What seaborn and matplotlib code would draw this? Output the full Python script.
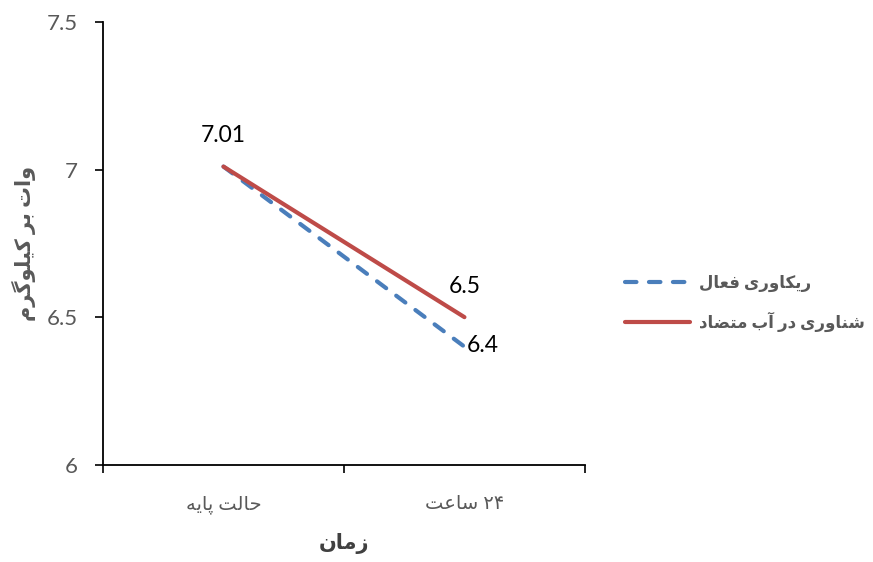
import re
import matplotlib
matplotlib.use("Agg")
import matplotlib.pyplot as plt
from matplotlib.lines import Line2D
import pandas as pd
import seaborn as sns

# ---- data ----
time_points = ["حالت پایه", "۲۴ ساعت"]
series_names = ["ریکاوری فعال", "شناوری در آب متضاد"]
active_recovery = [7.01, 6.40]
contrast_water = [7.01, 6.50]
y_ticks = [6, 6.5, 7, 7.5]
y_label = "وات بر کیلوگرم"
x_label = "زمان"

# ---- minimal Persian shaping (presentation forms + visual order) ----
FORMS = {
    "\u0627": ("\uFE8D", "\uFE8E"),
    "\u0622": ("\uFE81", "\uFE82"),
    "\u0628": ("\uFE8F", "\uFE90", "\uFE91", "\uFE92"),
    "\u067E": ("\uFB56", "\uFB57", "\uFB58", "\uFB59"),
    "\u062A": ("\uFE95", "\uFE96", "\uFE97", "\uFE98"),
    "\u062D": ("\uFEA1", "\uFEA2", "\uFEA3", "\uFEA4"),
    "\u062F": ("\uFEA9", "\uFEAA"),
    "\u0631": ("\uFEAD", "\uFEAE"),
    "\u0632": ("\uFEAF", "\uFEB0"),
    "\u0633": ("\uFEB1", "\uFEB2", "\uFEB3", "\uFEB4"),
    "\u0634": ("\uFEB5", "\uFEB6", "\uFEB7", "\uFEB8"),
    "\u0636": ("\uFEBD", "\uFEBE", "\uFEBF", "\uFEC0"),
    "\u0639": ("\uFEC9", "\uFECA", "\uFECB", "\uFECC"),
    "\u0641": ("\uFED1", "\uFED2", "\uFED3", "\uFED4"),
    "\u06A9": ("\uFB8E", "\uFB8F", "\uFB90", "\uFB91"),
    "\u06AF": ("\uFB92", "\uFB93", "\uFB94", "\uFB95"),
    "\u0644": ("\uFEDD", "\uFEDE", "\uFEDF", "\uFEE0"),
    "\u0645": ("\uFEE1", "\uFEE2", "\uFEE3", "\uFEE4"),
    "\u0646": ("\uFEE5", "\uFEE6", "\uFEE7", "\uFEE8"),
    "\u0647": ("\uFEE9", "\uFEEA", "\uFEEB", "\uFEEC"),
    "\u0648": ("\uFEED", "\uFEEE"),
    "\u06CC": ("\uFBFC", "\uFBFD", "\uFBFE", "\uFBFF"),
}


def shape(text):
    out = []
    for i, c in enumerate(text):
        f = FORMS.get(c)
        if f is None:
            out.append(c)
            continue
        prev = text[i - 1] if i > 0 else None
        nxt = text[i + 1] if i + 1 < len(text) else None
        join_prev = prev in FORMS and len(FORMS[prev]) == 4
        join_next = len(f) == 4 and nxt in FORMS
        if join_prev and join_next:
            out.append(f[3])
        elif join_prev:
            out.append(f[1])
        elif join_next:
            out.append(f[2])
        else:
            out.append(f[0])
    return "".join(out)


def rtl(text):
    rev = shape(text)[::-1]
    return re.sub(r"[0-9\u06F0-\u06F9.]+", lambda m: m.group(0)[::-1], rev)


# ---- figure ----
sns.set_theme(style="white")
plt.rcParams["font.family"] = ["Lato", "DejaVu Sans"]

fig = plt.figure(figsize=(8.73, 5.62), dpi=100)
ax = fig.add_axes([0.118, 0.173, 0.552, 0.788])

blue = "#4A7EBB"
red = "#BE4B48"
x_vis = [rtl(t) for t in time_points]
names_vis = [rtl(n) for n in series_names]

df = pd.DataFrame({
    "time": x_vis * 2,
    "value": active_recovery + contrast_water,
    "series": [names_vis[0]] * 2 + [names_vis[1]] * 2,
})

sns.lineplot(
    data=df, x="time", y="value", hue="series", style="series",
    palette={names_vis[0]: blue, names_vis[1]: red},
    dashes={names_vis[0]: (2.75, 3.0), names_vis[1]: ""},
    linewidth=3, ax=ax, legend=False, sort=False,
)
for ln in ax.get_lines():
    ln.set_dash_capstyle("round")
    ln.set_solid_capstyle("round")

# data labels
lbl_size = 16.5
ax.text(0, active_recovery[0] + 0.105, f"{active_recovery[0]:.2f}", ha="center",
        va="center", fontsize=lbl_size, color="black")
ax.text(1, contrast_water[1] + 0.105, f"{contrast_water[1]:g}", ha="center",
        va="center", fontsize=lbl_size, color="black")
ax.text(1.01, active_recovery[1] + 0.005, f"{active_recovery[1]:g}", ha="left",
        va="center", fontsize=lbl_size, color="black")

# axes
ax.set_xlim(-0.5, 1.5)
ax.set_ylim(6, 7.5)
ax.set_yticks(y_ticks)
ax.set_yticklabels([f"{v:g}" for v in y_ticks], fontsize=16, color="#595959")
ax.set_xticks([0, 1])
ax.set_xticklabels(x_vis, fontsize=14, color="#595959")
ax.set_xticks([-0.5, 0.5, 1.5], minor=True)
ax.tick_params(axis="x", which="major", length=0, pad=22)
ax.tick_params(axis="x", which="minor", length=6, width=1.2, color="black",
               direction="out", bottom=True)
ax.tick_params(axis="y", length=6, width=1.2, color="black", direction="out",
               left=True, pad=12)
for side in ("top", "right"):
    ax.spines[side].set_visible(False)
for side in ("left", "bottom"):
    ax.spines[side].set_color("black")
    ax.spines[side].set_linewidth(1.3)

ax.set_xlabel(rtl(x_label), fontsize=15, fontweight="bold", color="#404040",
              labelpad=14)
ax.set_ylabel(rtl(y_label), fontsize=15, fontweight="bold", color="#595959",
              labelpad=8)

handles = [
    Line2D([], [], color=blue, lw=3, linestyle=(0, (2.75, 3.0)),
           dash_capstyle="round"),
    Line2D([], [], color=red, lw=3, solid_capstyle="round"),
]
leg = fig.legend(handles, names_vis, loc="center left",
                 bbox_to_anchor=(0.703, 0.46), frameon=False, fontsize=12,
                 handlelength=3.9, handletextpad=0.5, labelspacing=1.2,
                 borderpad=0.2)
for t in leg.get_texts():
    t.set_fontweight("bold")
    t.set_color("#595959")

fig.savefig("out.png", dpi=100)
